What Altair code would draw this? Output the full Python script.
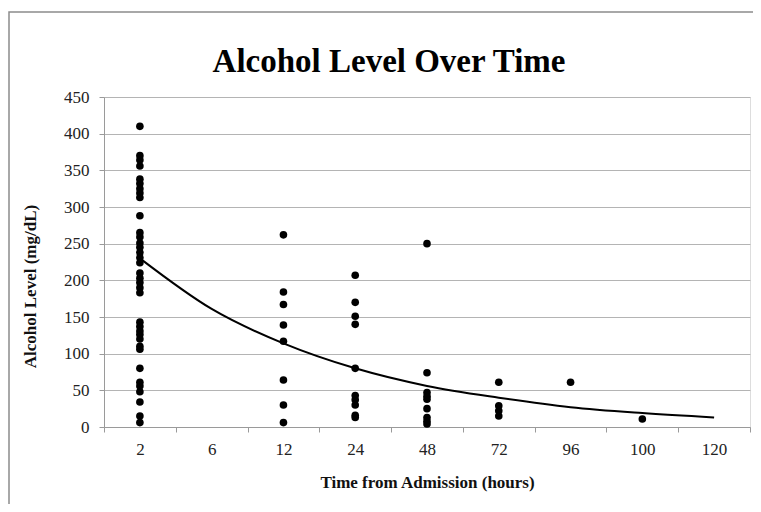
import altair as alt
import pandas as pd

# category labels of the x axis (equally spaced categories)
categories = ["2", "6", "12", "24", "48", "72", "96", "100", "120"]

# observed alcohol levels (mg/dL) per category
level_2h = [410, 370, 364, 356, 338, 332, 325, 319, 313, 288, 265, 259, 251, 245,
            238, 231, 224, 210, 203, 197, 190, 183, 143, 137, 131, 126, 120, 110,
            106, 80, 61, 56, 48, 34, 15, 6]
level_6h = []
level_12h = [262, 184, 167, 139, 117, 64, 30, 6]
level_24h = [207, 170, 151, 140, 80, 43, 37, 30, 16, 13]
level_48h = [250, 74, 47, 42, 38, 25, 13, 8, 4]
level_72h = [61, 29, 22, 15]
level_96h = [61]
level_100h = [11]
level_120h = []

# exponential trend line, value read at each category
trend_values = [230, 161, 114, 80, 56, 40, 27, 19, 13]

# y axis tick values
y_ticks = [0, 50, 100, 150, 200, 250, 300, 350, 400, 450]

title_text = ["Alcohol Level Over Time"]

series = [level_2h, level_6h, level_12h, level_24h, level_48h,
          level_72h, level_96h, level_100h, level_120h]

rows = []
for i, (cat, vals) in enumerate(zip(categories, series)):
    for v in vals:
        rows.append({"idx": i + 1, "time": cat, "level": v})
points_df = pd.DataFrame(rows)
trend_df = pd.DataFrame({"idx": list(range(1, len(categories) + 1)),
                         "level": trend_values})
frame_df = pd.DataFrame({"a": [0]})
title_df = pd.DataFrame({"t": title_text})

W, H = 646, 330
label_list = "[" + ",".join("'%s'" % c for c in categories) + "]"
label_expr = ("floor(datum.value) < %d ? %s[floor(datum.value)] : ''"
              % (len(categories), label_list))

FONT = "Liberation Serif"
GRID = "#b4b4b4"
AXIS = "#9a9a9a"

x_scale = alt.Scale(domain=[0.5, len(categories) + 0.5], nice=False, zero=False)
y_scale = alt.Scale(domain=[0, 450], nice=False)

x_axis = alt.Axis(
    values=[i + 0.5 for i in range(len(categories) + 1)],
    labelExpr=label_expr, labelOffset=W / len(categories) / 2,
    grid=False, tickSize=5, tickColor=AXIS, domainColor=AXIS,
    labelFont=FONT, labelFontSize=17, labelColor="#222222", labelPadding=9,
    labelOverlap=False, labelFlush=False, labelBound=False,
    title="Time from Admission (hours)", titleFont=FONT, titleFontSize=17,
    titleFontWeight="bold", titleColor="#111111", titleY=55,
    titleBaseline="middle")

y_axis = alt.Axis(
    values=y_ticks, grid=True, gridColor=GRID, tickCount=len(y_ticks),
    tickSize=5, tickColor=AXIS, domainColor=AXIS,
    labelFont=FONT, labelFontSize=17, labelColor="#222222", labelPadding=10,
    labelOverlap=False, labelFlush=False, labelBound=False,
    title="Alcohol Level (mg/dL)", titleFont=FONT, titleFontSize=17,
    titleFontWeight="bold", titleColor="#111111", titleX=-74, titleY=189,
    titleBaseline="middle", titleAngle=270)

frame = alt.Chart(frame_df).mark_rect(
    fill="transparent", stroke="#8c8c8c", strokeWidth=1.5).encode(
    x=alt.value(-95), x2=alt.value(720), y=alt.value(-85), y2=alt.value(520))

title = alt.Chart(title_df).mark_text(
    font=FONT, fontSize=33, fontWeight="bold", color="#000000",
    align="center", baseline="alphabetic").encode(
    text="t:N", x=alt.value(285), y=alt.value(-25))

pts = alt.Chart(points_df).mark_circle(size=58, color="black", opacity=1).encode(
    x=alt.X("idx:Q", scale=x_scale, axis=x_axis),
    y=alt.Y("level:Q", scale=y_scale, axis=y_axis))

trend = alt.Chart(trend_df).mark_line(
    color="black", strokeWidth=2, interpolate="monotone").encode(
    x=alt.X("idx:Q", scale=x_scale, axis=x_axis),
    y=alt.Y("level:Q", scale=y_scale, axis=y_axis))

chart = alt.layer(frame, title, pts, trend).properties(
    width=W, height=H,
    padding={"left": 96, "top": 89, "right": 3, "bottom": 77},
    autosize=alt.AutoSizeParams(type="none"),
).configure_view(stroke=None).configure(background="white")

chart.save("out.html", embed_options={"renderer": "svg", "actions": False})
